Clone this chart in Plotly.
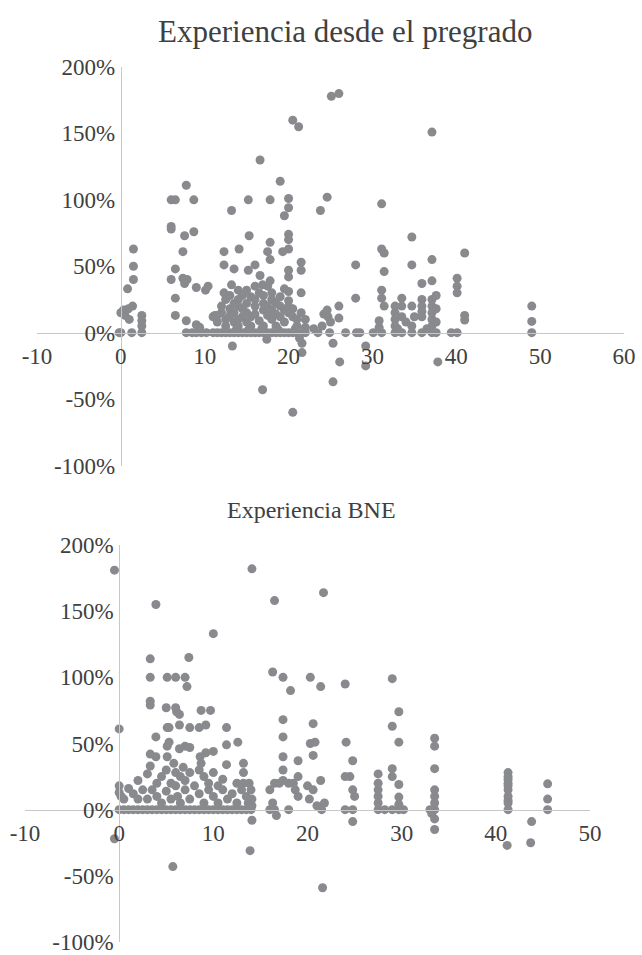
import plotly.graph_objects as go

# ---------------- Data: "Experiencia desde el pregrado" ----------------
top_x_a = [0, 0, 0.3, 0.5, 0.9, 1.0, 1.4, 1.5, 1.5, 1.5, 0.8, 1.3, 2.5, 2.5, 2.5, 2.5, -0.2]
top_y_a = [0, 15, 17, 13, 18, 10, 20, 63, 50, 40, 33, 0, 13, 9, 5, 0, 0]

top_x_b = [6, 6.5, 8.7, 7.8, 6, 6, 7.6, 8.7, 7.4, 6.5, 6, 7.4, 7.9, 7.6, 6.5, 9, 10.1, 10.4,
           6.5, 7.8, 9, 9.4, 7.8, 9, 10.2, 8.5, 9.6, 11]
top_y_b = [100, 100, 100, 111, 80, 78, 73, 76, 61, 48, 40, 41, 40, 37, 26, 34, 32, 35,
           13, 9, 6, 4, 0, 0, 0, 0, 0, 0]

top_x_c = [16.6, 19, 15.2, 17.8, 20, 20, 13.2, 19.5, 15.3, 20, 20, 12.3, 14.1, 17.8, 17.5, 17.8,
           19.3, 20, 12.3, 13.5, 15.2, 16, 16.6, 17.8, 16.9, 20, 20, 21.5, 21.5, 12.3, 13.2, 19.5,
           20, 21.5, 20.5, 21.2]
top_y_c = [130, 114, 100, 100, 101, 94, 92, 88, 73, 74, 70, 61, 63, 68, 61, 55,
           61, 63, 51, 48, 47, 51, 43, 39, 36, 47, 42, 53, 47, 30, 36, 33,
           31, 30, 160, 155]

top_x_d = [11, 11.5, 11.5, 12, 12, 12.5, 12.5, 12.5, 13, 13,
           13, 13.5, 13.5, 13.5, 14, 14, 14, 14, 14, 14.5,
           14.5, 14.5, 15, 15, 15, 15, 15.5, 15.5, 15.5, 16,
           16, 16, 16, 16.5, 16.5, 17, 17, 17, 17, 17.5,
           17.5, 17.5, 18, 18, 18, 18, 18.5, 18.5, 18.5, 19,
           19, 19, 19.5, 19.5, 20, 20, 20, 20.5, 20.5, 21,
           21, 21.5, 22, 22, 11.2, 13.8, 15.2, 16.8, 18.8, 20.8]
top_y_d = [12, 13, 8, 15, 20, 25, 10, 5, 18, 13,
           28, 22, 8, 15, 25, 20, 10, 32, 5, 28,
           18, 12, 22, 15, 8, 32, 27, 12, 5, 20,
           35, 25, 14, 30, 9, 22, 17, 28, 5, 35,
           13, 20, 25, 17, 30, 10, 22, 14, 5, 20,
           27, 12, 17, 8, 24, 15, 20, 12, 18, 10,
           5, 15, 10, 4, 13, 3, 2, 3, 2, 3]

top_x_e = [11.5, 12, 12.5, 13, 13.5, 14, 14.5, 15, 15.5, 16, 16.5, 17, 17.5, 18, 18.5, 19,
           19.5, 20, 20.5, 21, 21.5, 22, 13.3, 21.6, 21.6, 21.3, 17.4, 16.9, 20.5]
top_y_e = [0, 0, 0, 0, 0, 0, 0, 0, 0, 0, 0, 0, 0, 0, 0, 0,
           0, 0, 0, 0, 0, 0, -10, -8, -15, -4, -5, -43, -60]

top_x_f = [25.1, 26, 24.6, 23.8, 26, 28, 28, 24.6, 24.7, 26, 23.5, 24.9, 26.8, 28.1, 24, 25,
           25.3, 25.3, 26.1, 29.2, 29.2, 28.5, 23, 24.2]
top_y_f = [178, 180, 102, 92, 20, 51, 26, 17, 12, 11, 0, 0, 0, 0, 5, 8,
           -8, -37, -22, -10, -25, 0, 3, 14]

top_x_g = [37.1, 31.1, 34.7, 31.1, 31.4, 34.7, 37.1, 41, 31.4, 35.9,
           37.1, 40.1, 40.1, 40.1, 31.1, 31.1, 31.4, 33.5, 33.5, 34.7,
           35.9, 35.9, 35.9, 35.9, 37.1, 37.1, 37.1, 37.1, 37.1, 37.6,
           37.6, 37.6, 32.7, 32.7, 32.7, 32.7, 33.5, 34, 34.7, 35,
           41, 41, 49, 49, 49, 30.8, 30.8, 30.1, 31.1, 32.7,
           33.5, 34.7, 35.9, 37.1, 37.6, 39.4, 40.1, 36.5, 33, 37.8]
top_y_g = [151, 97, 72, 63, 60, 51, 55, 60, 46, 37,
           39, 41, 35, 30, 32, 26, 20, 26, 20, 20,
           25, 20, 16, 12, 25, 20, 15, 10, 5, 28,
           18, 8, 20, 15, 10, 5, 12, 8, 5, 12,
           13, 9.5, 20, 8.5, 0, 9, 4, 0, 0, 0,
           0, 0, 0, 0, 0, 0, 0, 3, 3, -22]

# ---------------- Data: "Experiencia BNE" ----------------
bot_x_a = [-0.5, 0, -0.5, 0, 0, 0.2, 0.5, 1, 1.5, 2, 2.5, 3, 2]
bot_y_a = [181, 61, -22, 18, 13, 10, 8, 16, 12, 22, 15, 27, 8]

bot_x_zero = [0, 0.5, 1, 1.5, 2, 2.5, 3, 3.5, 4, 4.5, 5, 5.5, 6, 6.5, 7, 7.5, 8, 8.5, 9, 9.5,
              10, 10.5, 11, 11.5, 12, 12.5, 13, 13.5, 14, 16, 16.5, 18, 21.5, 24, 24.8]
bot_y_zero = [0, 0, 0, 0, 0, 0, 0, 0, 0, 0, 0, 0, 0, 0, 0, 0, 0, 0, 0, 0,
              0, 0, 0, 0, 0, 0, 0, 0, 0, 0, 0, 0, 0, 0, 0]

bot_x_b = [3.9, 14.1, 16.5, 21.7, 10, 3.3, 7.4, 3.3, 5.1, 6,
           7, 7.2, 16.3, 17.4, 18.2, 20.3, 21.4, 24, 3.3, 3.3,
           5, 6, 6.1, 6.4, 8.7, 9.7, 3.9, 5.1, 5.3, 6.4,
           7.5, 8.5, 9.2, 11.4, 11.4, 12.6, 17.4, 17.4, 20.6, 20.3,
           20.8, 20.6, 24.1, 17.4, 17.4, 19, 24.8, 3.3, 3.9, 3.3,
           5.1, 5.3, 5.1, 6.4, 7, 7.5, 8.6, 9.2, 10, 11.4,
           13.2, 13.2, 13.2]
bot_y_b = [155, 182, 158, 164, 133, 114, 115, 100, 100, 100,
           100, 93, 104, 100, 90, 100, 93, 95, 82, 79,
           77, 77, 74, 72, 75, 75, 55, 62, 62, 64,
           62, 62, 64, 62, 49, 51, 68, 55, 65, 50,
           51, 41, 51, 40, 30, 37, 37, 42, 40, 33,
           48, 51, 40, 46, 48, 47, 40, 43, 44, 34,
           35, 28, 20]

bot_x_c = [3, 3.5, 4, 4, 4.5, 4.5, 5, 5, 5.5, 5.5,
           5.8, 6, 6, 6.2, 6.5, 6.5, 6.8, 7, 7, 7.5,
           7.5, 8, 8.5, 8.5, 8.7, 9, 9, 9.5, 9.5, 10,
           10, 10.5, 10.5, 11, 11, 11.5, 12, 12.5, 12.5, 13,
           13.5, 13.7, 14.1, 14.1, 14, 13.8, 14.1, 16.7, 24.8, 5.7,
           13.9, 21.6]
bot_y_c = [8, 15, 20, 10, 5, 25, 30, 14, 20, 8,
           35, 28, 18, 10, 25, 5, 32, 15, 22, 8,
           28, 18, 12, 30, 35, 25, 5, 20, 15, 28,
           10, 18, 5, 15, 23, 8, 12, 20, 5, 15,
           10, 5, 8, 3, 15, 20, -8, -4.5, -9, -43,
           -31, -59]

bot_x_d = [16, 16.5, 16.3, 17, 17.4, 18, 18.5, 18.7, 19, 19, 20, 20.2, 20.6, 21, 21.4, 21.8,
           24, 24.5, 24.8, 25]
bot_y_d = [15, 20, 5, 20, 22, 20, 20, 15, 25, 10, 18, 8, 15, 3, 22, 5,
           25, 25, 15, 10]

bot_x_e = [29, 29.7, 29, 29.7, 33.5, 33.5, 33.5, 33.5, 33.5, 33.5,
           33.5, 33, 33.5, 33.5, 33.2, 27.5, 27.5, 27.5, 27.5, 27.5,
           27.5, 28.2, 29, 29.7, 30.2, 29, 29, 29.7, 29.7, 29.7,
           41.3, 41.3, 41.3, 41.3, 41.3, 41.3, 41.3, 41.3, 41.3, 41.3,
           45.5, 45.5, 45.5, 43.8, 41.2, 43.7]
bot_y_e = [99, 74, 63, 51, 54, 48, 31, 15, 10, 5,
           0, 0, -7, -15, -3, 27, 20, 15, 10, 5,
           0, 0, 0, 0, 0, 31, 25, 19, 9.5, 4,
           28, 25, 20, 15, 10, 5, 0, 23, 18, 7,
           19.5, 8, 0, -9, -27, -25]

# ---------------- Titles and ticks ----------------
title_top = "Experiencia desde el pregrado"
title_bot = "Experiencia BNE"
x_ticks_top = [-10, 0, 10, 20, 30, 40, 50, 60]
x_ticks_bot = [-10, 0, 10, 20, 30, 40, 50]
y_ticks = [-100, -50, 0, 50, 100, 150, 200]
y_tick_text = ["-100%", "-50%", "0%", "50%", "100%", "150%", "200%"]

top_x = top_x_a + top_x_b + top_x_c + top_x_d + top_x_e + top_x_f + top_x_g
top_y = top_y_a + top_y_b + top_y_c + top_y_d + top_y_e + top_y_f + top_y_g
bot_x = bot_x_a + bot_x_zero + bot_x_b + bot_x_c + bot_x_d + bot_x_e
bot_y = bot_y_a + bot_y_zero + bot_y_b + bot_y_c + bot_y_d + bot_y_e
assert len(top_x) == len(top_y), (len(top_x), len(top_y))
assert len(bot_x) == len(bot_y), (len(bot_x), len(bot_y))

W, H = 642, 955
FONT = "'Liberation Serif', 'Times New Roman', 'DejaVu Serif', serif"
TXT = "#404040"
DOT = "rgb(137,138,142)"
AXC = "#c8c8c8"

fig = go.Figure()
fig.add_trace(go.Scatter(x=top_x, y=top_y, mode="markers", xaxis="x", yaxis="y",
                         marker=dict(size=9, color=DOT), showlegend=False, cliponaxis=False))
fig.add_trace(go.Scatter(x=bot_x, y=bot_y, mode="markers", xaxis="x2", yaxis="y2",
                         marker=dict(size=9, color=DOT), showlegend=False, cliponaxis=False))

# pixel geometry
top_xpx = (37, 624)     # -10 .. 60
top_ypx = (67, 465.5)   # 200% .. -100%
bot_xpx = (25, 590)     # -10 .. 50
bot_ypx = (545, 942)    # 200% .. -100%

def xdom(p):
    return [p[0] / W, p[1] / W]

def ydom(p):
    return [(H - p[1]) / H, (H - p[0]) / H]

def zero_x(p, lo, hi):
    return (p[0] + (0 - lo) / (hi - lo) * (p[1] - p[0])) / W

def zero_y(p, lo, hi):
    pix = p[0] + (hi - 0) / (hi - lo) * (p[1] - p[0])
    return (H - pix) / H

tickfont = dict(family=FONT, size=23, color=TXT)
xcommon = dict(showgrid=False, zeroline=False, showline=True, linecolor=AXC, linewidth=1,
               ticks="outside", ticklen=3, tickcolor="rgba(0,0,0,0)", tickfont=tickfont,
               anchor="free", fixedrange=True, automargin=False, ticklabeloverflow="allow")
ycommon = dict(showgrid=False, zeroline=False, showline=True, linecolor=AXC, linewidth=1,
               ticks="outside", ticklen=1, tickcolor="rgba(0,0,0,0)", tickfont=tickfont,
               anchor="free", tickvals=y_ticks, ticktext=y_tick_text, range=[-100, 200],
               fixedrange=True, automargin=False, ticklabeloverflow="allow")

fig.update_layout(
    width=W, height=H, margin=dict(l=0, r=0, t=0, b=0, autoexpand=False),
    paper_bgcolor="white", plot_bgcolor="rgba(0,0,0,0)",
    xaxis=dict(xcommon, domain=xdom(top_xpx), range=[-10, 60], tickvals=x_ticks_top,
               ticktext=[str(v) for v in x_ticks_top],
               position=zero_y(top_ypx, -100, 200)),
    yaxis=dict(ycommon, domain=ydom(top_ypx), position=zero_x(top_xpx, -10, 60)),
    xaxis2=dict(xcommon, domain=xdom(bot_xpx), range=[-10, 50], tickvals=x_ticks_bot,
                ticktext=[str(v) for v in x_ticks_bot],
                position=zero_y(bot_ypx, -100, 200)),
    yaxis2=dict(ycommon, domain=ydom(bot_ypx), position=zero_x(bot_xpx, -10, 50)),
    annotations=[
        dict(text=title_top, x=345 / W, y=(H - 31) / H, xref="paper", yref="paper",
             showarrow=False, xanchor="center", yanchor="middle",
             font=dict(family=FONT, size=31, color=TXT)),
        dict(text=title_bot, x=311 / W, y=(H - 510) / H, xref="paper", yref="paper",
             showarrow=False, xanchor="center", yanchor="middle",
             font=dict(family=FONT, size=24, color=TXT)),
    ],
)

fig.write_html("out.html", config={"displayModeBar": False},
               post_script="document.body.style.margin='0';document.body.style.overflow='hidden';")
